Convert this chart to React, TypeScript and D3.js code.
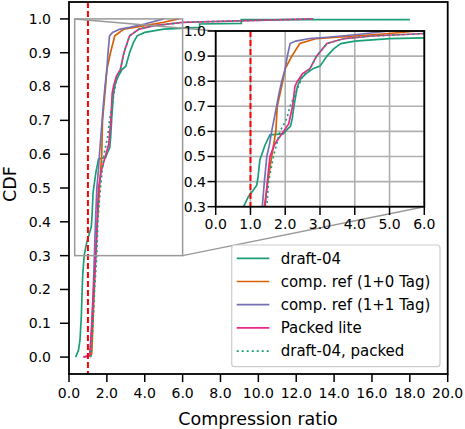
import React from "react";
import * as d3 from "d3";

// ---- data (CDF breakpoints) ----
const draft04X = [0.35, 0.5, 0.58, 0.65, 0.72, 0.8, 0.94, 1.05, 1.18, 1.22, 1.27, 1.42, 1.56, 1.94, 2.0, 2.15, 2.2, 2.25, 2.35, 2.45, 2.6, 2.8, 3.0, 3.1, 3.2, 3.4, 3.6, 4.0, 5.0, 6.9, 6.9, 9.1, 9.1, 18.0];
const draft04Y = [0.0, 0.02, 0.05, 0.12, 0.24, 0.3, 0.34, 0.36, 0.386, 0.42, 0.486, 0.546, 0.586, 0.59, 0.6, 0.62, 0.65, 0.7, 0.78, 0.81, 0.83, 0.85, 0.86, 0.88, 0.9, 0.93, 0.95, 0.96, 0.97, 0.975, 0.985, 0.987, 0.998, 0.998];

const ref10X = [1.1, 1.2, 1.25, 1.3, 1.35, 1.4, 1.5, 1.61, 1.73, 1.77, 1.85, 1.93, 2.0, 2.19, 2.42, 2.9, 4.0, 5.0, 5.8];
const ref10Y = [0.0, 0.01, 0.08, 0.15, 0.22, 0.3, 0.4, 0.5, 0.6, 0.7, 0.75, 0.8, 0.85, 0.9, 0.95, 0.97, 0.98, 0.99, 1.0];

const ref11X = [0.75, 1.1, 1.2, 1.28, 1.34, 1.4, 1.47, 1.55, 1.61, 1.68, 1.75, 1.82, 1.9, 2.0, 2.06, 2.14, 2.3, 2.7, 3.2, 4.0, 5.0];
const ref11Y = [0.0, 0.005, 0.1, 0.2, 0.3, 0.4, 0.5, 0.55, 0.6, 0.65, 0.7, 0.75, 0.8, 0.85, 0.9, 0.95, 0.96, 0.97, 0.975, 0.985, 1.0];

const packedLiteX = [0.78, 1.1, 1.2, 1.3, 1.42, 1.5, 1.56, 1.7, 1.85, 1.95, 2.1, 2.21, 2.28, 2.35, 2.5, 2.71, 2.9, 3.2, 3.7, 4.5, 6.0, 12.9];
const packedLiteY = [0.0, 0.005, 0.08, 0.2, 0.3, 0.42, 0.5, 0.55, 0.58, 0.6, 0.63, 0.7, 0.78, 0.8, 0.83, 0.85, 0.9, 0.95, 0.97, 0.98, 0.99, 1.0];

const draft04PackedX = [1.15, 1.25, 1.35, 1.47, 1.52, 1.66, 1.85, 2.04, 2.14, 2.38, 2.5, 2.72, 2.9, 3.2, 3.7, 4.5, 6.0, 12.9];
const draft04PackedY = [0.0, 0.08, 0.2, 0.3, 0.4, 0.5, 0.6, 0.65, 0.7, 0.78, 0.82, 0.85, 0.9, 0.95, 0.97, 0.98, 0.99, 1.0];

const seriesNames = ["draft-04", "comp. ref (1+0 Tag)", "comp. ref (1+1 Tag)", "Packed lite", "draft-04, packed"];
const seriesColors = ["#1b9e77", "#d95f02", "#7570b3", "#e7298a", "#1b9e77"];
const seriesDash = [null, null, null, null, "2,3"];
const seriesX = [draft04X, ref10X, ref11X, packedLiteX, draft04PackedX];
const seriesY = [draft04Y, ref10Y, ref11Y, packedLiteY, draft04PackedY];

const mainXTicks = [0, 2, 4, 6, 8, 10, 12, 14, 16, 18, 20];
const mainYTicks = [0, 0.1, 0.2, 0.3, 0.4, 0.5, 0.6, 0.7, 0.8, 0.9, 1.0];
const insetXTicks = [0, 1, 2, 3, 4, 5, 6];
const insetYTicks = [0.3, 0.4, 0.5, 0.6, 0.7, 0.8, 0.9, 1.0];
const refLine = 1.0;
const zoomBox = { x0: 0.3, x1: 6, y0: 0.3, y1: 1.0 };

const FONT = "DejaVu Sans, sans-serif";

export default function App() {
  const W = 465, H = 429;
  const x = d3.scaleLinear().domain([0, 20]).range([69, 447.7]);
  const y = d3.scaleLinear().domain([-0.05, 1.05]).range([374, 2]);
  const xi = d3.scaleLinear().domain([0, 6]).range([215.7, 424.3]);
  const yi = d3.scaleLinear().domain([0.3, 1.0]).range([206.7, 31]);
  const fmt = d3.format(".1f");

  const series = seriesX.map((xs, i) => xs.map((v, j) => [v, seriesY[i][j]] as [number, number]));
  const lineMain = d3.line<[number, number]>().x(d => x(d[0])).y(d => y(d[1]));
  const lineInset = d3.line<[number, number]>().x(d => xi(d[0])).y(d => yi(d[1]));

  const gray = "#999999";
  const legX = 231.7, legY = 245, legW = 208.3, legH = 121.7;

  return (
    <svg width={W} height={H} style={{ position: "absolute", left: 0, top: 0, background: "#fff" }} fontFamily={FONT}>
      <defs>
        <clipPath id="mainClip"><rect x={69} y={2} width={378.7} height={372} /></clipPath>
        <clipPath id="insetClip"><rect x={215.7} y={31} width={208.6} height={175.7} /></clipPath>
      </defs>
      <rect x={0} y={0} width={W} height={H} fill="#fff" />
      {/* main data */}
      <g clipPath="url(#mainClip)">
        {series.map((s, i) => (
          <path key={i} d={lineMain(s) || ""} fill="none" stroke={seriesColors[i]} strokeWidth={1.7}
            strokeDasharray={seriesDash[i] || undefined} />
        ))}
        <line x1={x(refLine)} x2={x(refLine)} y1={2} y2={374} stroke="#ff0000" strokeWidth={2} strokeDasharray="6,3" />
      </g>
      {/* zoom indicator */}
      <rect x={x(zoomBox.x0)} y={y(zoomBox.y1)} width={x(zoomBox.x1) - x(zoomBox.x0)} height={y(zoomBox.y0) - y(zoomBox.y1)}
        fill="none" stroke={gray} strokeWidth={1.5} />
      <line x1={x(zoomBox.x0)} y1={y(zoomBox.y1)} x2={xi(0)} y2={yi(1.0)} stroke={gray} strokeWidth={1.5} />
      <line x1={x(zoomBox.x1)} y1={y(zoomBox.y0)} x2={xi(6)} y2={yi(0.3)} stroke={gray} strokeWidth={1.5} />
      {/* main spines */}
      <rect x={69} y={2} width={378.7} height={372} fill="none" stroke="#000" strokeWidth={1.8} />
      {mainYTicks.map(t => (
        <g key={"my" + t}>
          <line x1={60} x2={69} y1={y(t)} y2={y(t)} stroke="#000" strokeWidth={1.5} />
          <text x={51} y={y(t)} dy="0.35em" textAnchor="end" fontSize={14} fill="#000">{fmt(t)}</text>
        </g>
      ))}
      {mainXTicks.map(t => (
        <g key={"mx" + t}>
          <line x1={x(t)} x2={x(t)} y1={374} y2={382} stroke="#000" strokeWidth={1.5} />
          <text x={x(t)} y={398} textAnchor="middle" fontSize={14} fill="#000">{fmt(t)}</text>
        </g>
      ))}
      <text x={258} y={425} textAnchor="middle" fontSize={17.5} fill="#000">Compression ratio</text>
      <text transform="translate(15.5,184) rotate(-90)" textAnchor="middle" fontSize={17.5} fill="#000">CDF</text>

      {/* inset */}
      <rect x={215.7} y={31} width={208.6} height={175.7} fill="#fff" />
      {insetXTicks.map(t => (
        <line key={"gx" + t} x1={xi(t)} x2={xi(t)} y1={31} y2={206.7} stroke="#b0b0b0" strokeWidth={1.6} />
      ))}
      {insetYTicks.map(t => (
        <line key={"gy" + t} x1={215.7} x2={424.3} y1={yi(t)} y2={yi(t)} stroke="#b0b0b0" strokeWidth={1.6} />
      ))}
      <g clipPath="url(#insetClip)">
        {series.map((s, i) => (
          <path key={i} d={lineInset(s) || ""} fill="none" stroke={seriesColors[i]} strokeWidth={1.7}
            strokeDasharray={seriesDash[i] || undefined} />
        ))}
        <line x1={xi(refLine)} x2={xi(refLine)} y1={31} y2={206.7} stroke="#ff0000" strokeWidth={2} strokeDasharray="6,3" />
      </g>
      <rect x={215.7} y={31} width={208.6} height={175.7} fill="none" stroke="#000" strokeWidth={1.8} />
      {insetYTicks.map(t => (
        <g key={"iy" + t}>
          <line x1={207.5} x2={215.7} y1={yi(t)} y2={yi(t)} stroke="#000" strokeWidth={1.5} />
          <text x={206} y={yi(t)} dy="0.35em" textAnchor="end" fontSize={14} fill="#000">{fmt(t)}</text>
        </g>
      ))}
      {insetXTicks.map(t => (
        <g key={"ix" + t}>
          <line x1={xi(t)} x2={xi(t)} y1={206.7} y2={215} stroke="#000" strokeWidth={1.5} />
          <text x={xi(t)} y={229} textAnchor="middle" fontSize={14} fill="#000">{fmt(t)}</text>
        </g>
      ))}

      {/* legend */}
      <rect x={legX} y={legY} width={legW} height={legH} rx={3} fill="#fff" fillOpacity={0.85} stroke="#cccccc" strokeWidth={1.2} />
      {seriesNames.map((n, i) => {
        const cy = 258.3 + i * 23.2;
        return (
          <g key={n}>
            <line x1={236.7} x2={269.3} y1={cy} y2={cy} stroke={seriesColors[i]} strokeWidth={1.7}
              strokeDasharray={seriesDash[i] || undefined} />
            <text x={280.7} y={cy} dy="0.35em" fontSize={15} fill="#000">{n}</text>
          </g>
        );
      })}
    </svg>
  );
}
